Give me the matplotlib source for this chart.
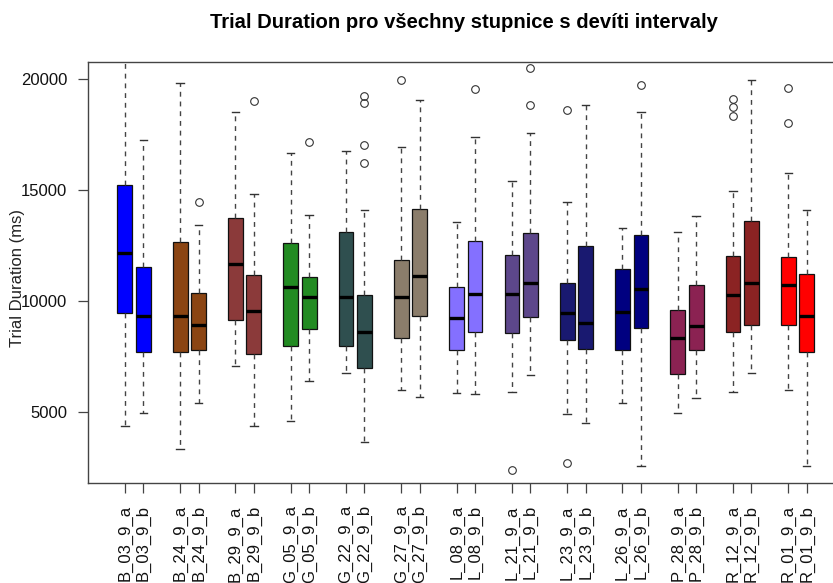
import matplotlib
matplotlib.use("Agg")
import matplotlib.pyplot as plt

labels = ["B_03_9_a", "B_03_9_b", "B_24_9_a", "B_24_9_b", "B_29_9_a", "B_29_9_b",
          "G_05_9_a", "G_05_9_b", "G_22_9_a", "G_22_9_b", "G_27_9_a", "G_27_9_b",
          "L_08_9_a", "L_08_9_b", "L_21_9_a", "L_21_9_b", "L_23_9_a", "L_23_9_b",
          "L_26_9_a", "L_26_9_b", "P_28_9_a", "P_28_9_b", "R_12_9_a", "R_12_9_b",
          "R_01_9_a", "R_01_9_b"]

group_colors = ["#0000FF", "#8B4513", "#8B3A3A", "#228B22", "#2F4F4F", "#8B7D6B",
                "#8470FF", "#5D478B", "#191970", "#000080", "#8B2252", "#8B2323",
                "#FF0000"]

whislo = [4350, 4970, 3350, 5400, 7090, 4350, 4590, 6410, 6760, 3630, 5980, 5680,
          5840, 5800, 5890, 6650, 4930, 4500, 5400, 2560, 4970, 5630, 5890, 6740,
          5980, 2560]
q1 = [9480, 7700, 7700, 7810, 9165, 7610, 7960, 8730, 7990, 6980, 8340, 9345,
      7810, 8620, 8580, 9300, 8230, 7840, 7800, 8770, 6710, 7810, 8620, 8910,
      8910, 7680]
med = [12140, 9345, 9345, 8910, 11645, 9540, 10650, 10160, 10200, 8620, 10160, 11120,
       9255, 10300, 10300, 10830, 9480, 9010, 9490, 10560, 8350, 8860, 10250, 10830,
       10700, 9345]
q3 = [15220, 11540, 12650, 10340, 13760, 11160, 12620, 11070, 13090, 10250, 11840, 14150,
      10635, 12710, 12080, 13040, 10790, 12460, 11460, 12950, 9580, 10700, 12030, 13610,
      11970, 11220]
whishi = [21500, 17240, 19820, 13430, 18530, 14815, 16650, 13870, 16750, 14090, 16950, 19050,
          13570, 17370, 15390, 17550, 14440, 18810, 13280, 18530, 13090, 13820, 14960, 19955,
          15775, 14090]
fliers = [[], [], [], [14440], [], [19010], [], [17150], [], [19230, 18930, 17040, 16230],
          [19970], [], [], [19530], [2370], [20510, 18830], [18590, 2720], [], [], [19730],
          [], [], [19100, 18720, 18350], [], [19590, 18020], []]

positions = []
for i in range(len(group_colors)):
    positions += [1.0 + 3 * i, 2.0 + 3 * i]
colors = [c for c in group_colors for _ in range(2)]

stats = []
for k in range(len(labels)):
    stats.append(dict(whislo=whislo[k], q1=q1[k], med=med[k], q3=q3[k],
                      whishi=whishi[k], fliers=fliers[k], label=labels[k]))

plt.rcParams['font.family'] = ['Liberation Sans', 'DejaVu Sans']

fig = plt.figure(figsize=(8.33, 5.83), dpi=100)
left_px, right_px, top_px, bot_px = 88, 843.6, 62, 483
ax = fig.add_axes([left_px / 833, 1 - bot_px / 583, (right_px - left_px) / 833,
                   (bot_px - top_px) / 583])

bp = ax.bxp(stats, positions=positions, widths=0.8, capwidths=0.4,
            patch_artist=True, showfliers=True,
            boxprops=dict(edgecolor='#111111', linewidth=0.9),
            medianprops=dict(color='black', linewidth=2.4, solid_capstyle='butt'),
            whiskerprops=dict(color='#444444', linewidth=1.0, linestyle=(0, (3.5, 3.5))),
            capprops=dict(color='#333333', linewidth=1.0),
            flierprops=dict(marker='o', markersize=5.5, markerfacecolor='none',
                            markeredgecolor='#333333', markeredgewidth=0.8))
for patch, c in zip(bp['boxes'], colors):
    patch.set_facecolor(c)

ax.set_xlim(-1.0, 40.0)
ax.set_ylim(1800, 20766)
ax.set_yticks([5000, 10000, 15000, 20000])
ax.set_yticklabels(["5000", "10000", "15000", "20000"])
ax.set_xticks(positions)
ax.set_xticklabels(labels, rotation=90, va='top', ha='center')
ax.tick_params(axis='both', labelsize=12, length=7, width=0.9, color='#444444',
               labelcolor='#111111')
ax.tick_params(axis='y', pad=8)
ax.tick_params(axis='x', pad=9)
for s in ax.spines.values():
    s.set_color('#444444')
    s.set_linewidth(1.0)

fig.text(18 / 833, 1 - 278 / 583, "Trial Duration (ms)", rotation=90,
         ha='center', va='center', fontsize=12, color='#222222')
fig.text(464 / 833, 1 - 28 / 583, "Trial Duration pro všechny stupnice s devíti intervaly",
         ha='center', va='baseline', fontsize=14.6, fontweight='bold', color='black')

fig.savefig("out.png", dpi=100)
